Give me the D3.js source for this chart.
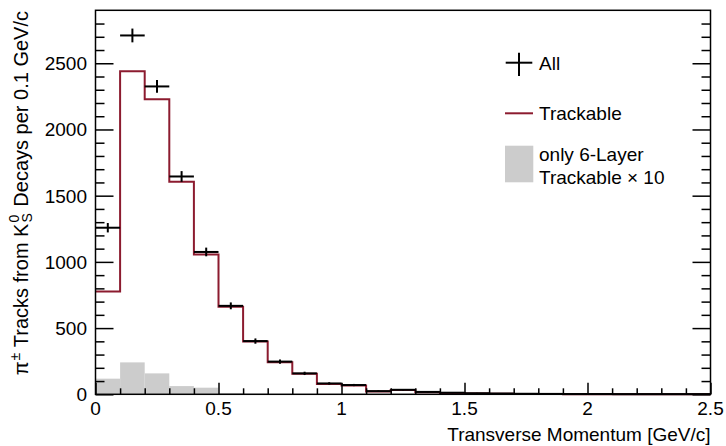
<!DOCTYPE html>
<html>
<head>
<meta charset="utf-8">
<script src="https://cdn.jsdelivr.net/npm/d3@7"></script>
<style>
  html, body { margin: 0; padding: 0; background: #fff; }
  svg { display: block; font-family: "Liberation Sans", Arial, Helvetica, sans-serif; }
</style>
</head>
<body>
<svg id="chart" width="726" height="446"></svg>
<script>
// Bin lower edges in GeV/c (bin width 0.1)
const binEdges = [0.0, 0.1, 0.2, 0.3, 0.4, 0.5, 0.6, 0.7, 0.8, 0.9,
                  1.0, 1.1, 1.2, 1.3, 1.4, 1.5, 1.6, 1.7, 1.8, 1.9,
                  2.0, 2.1, 2.2, 2.3, 2.4];
const binWidth = 0.1;

// All pions from K0S decays
const allCounts = [1258, 2710, 2325, 1645, 1075, 668, 402, 247, 158, 82,
                   70, 24, 34, 18, 12, 8, 6, 4, 3, 2,
                   2, 1, 1, 1, 1];
// Trackable pions
const trackableCounts = [776, 2440, 2228, 1606, 1056, 662, 399, 242, 155, 78,
                         66, 22, 32, 16, 10, 6, 4, 3, 2, 1,
                         1, 1, 0, 1, 0];
// Pions trackable only with 6 layers, scaled by 10
const sixLayerX10 = [118, 241, 158, 62, 50, 10, 5, 2, 0, 0,
                     0, 0, 0, 0, 0, 0, 0, 0, 0, 0,
                     0, 0, 0, 0, 0];

const yMajorTicks = [0, 500, 1000, 1500, 2000, 2500];
const xMajorTicks = [0, 0.5, 1, 1.5, 2, 2.5];
const xTickLabels = ["0", "0.5", "1", "1.5", "2", "2.5"];

const svg = d3.select("#chart");
const frameL = 95.5, frameR = 710.5, frameT = 10.3, frameB = 394.3;
const red = "#8c1b2f";
const fontSize = 19;

const x = d3.scaleLinear().domain([0, 2.5]).range([frameL, frameR]);
const y = d3.scaleLinear().domain([0, 2900]).range([frameB, frameT]);

// step outline path for a histogram
function stepPath(vals) {
  const p = d3.path();
  vals.forEach((v, i) => {
    const x0 = x(binEdges[i]), x1 = x(binEdges[i] + binWidth);
    if (i === 0) p.moveTo(x0, y(v)); else p.lineTo(x0, y(v));
    p.lineTo(x1, y(v));
  });
  return p.toString();
}

// 6-layer filled histogram
svg.append("g").selectAll("rect").data(sixLayerX10).join("rect")
  .attr("x", (d, i) => x(binEdges[i]))
  .attr("width", (d, i) => x(binEdges[i] + binWidth) - x(binEdges[i]))
  .attr("y", d => y(d))
  .attr("height", d => frameB - y(d))
  .attr("fill", "#cccccc");

// trackable outline
svg.append("path").attr("d", stepPath(trackableCounts))
  .attr("fill", "none").attr("stroke", red).attr("stroke-width", 2);

// all: points with errors
const pts = svg.append("g").attr("stroke", "#000").attr("stroke-width", 2);
allCounts.forEach((v, i) => {
  const xc = x(binEdges[i] + binWidth / 2);
  const e = Math.sqrt(v);
  pts.append("line")
    .attr("x1", x(binEdges[i])).attr("x2", x(binEdges[i] + binWidth))
    .attr("y1", y(v)).attr("y2", y(v));
  pts.append("line")
    .attr("x1", xc).attr("x2", xc)
    .attr("y1", y(v + e)).attr("y2", y(v - e));
});

// frame
svg.append("rect").attr("x", frameL).attr("y", frameT)
  .attr("width", frameR - frameL).attr("height", frameB - frameT)
  .attr("fill", "none").attr("stroke", "#000").attr("stroke-width", 1.5);

// axes
const yMinor = d3.range(0, 2900, 100).filter(v => v % 500 !== 0);
const yAxisL = d3.axisRight(y).tickValues(yMajorTicks).tickSize(18).tickFormat("");
const yAxisLm = d3.axisRight(y).tickValues(yMinor).tickSize(9).tickFormat("");
const yAxisR = d3.axisLeft(y).tickValues(yMajorTicks).tickSize(18).tickFormat("");
const yAxisRm = d3.axisLeft(y).tickValues(yMinor).tickSize(9).tickFormat("");
const xMinor = d3.range(1, 25).map(k => k / 10).filter(v => Math.abs(v * 2 - Math.round(v * 2)) > 1e-6);
const xAxis = d3.axisTop(x).tickValues(xMajorTicks).tickSize(11.5).tickFormat("");
const xAxisM = d3.axisTop(x).tickValues(xMinor).tickSize(6).tickFormat("");

function styleAxis(g) {
  g.select(".domain").remove();
  g.selectAll(".tick line").attr("stroke", "#000").attr("stroke-width", 1.5);
}
svg.append("g").attr("transform", `translate(${frameL},0)`).call(yAxisL).call(styleAxis);
svg.append("g").attr("transform", `translate(${frameL},0)`).call(yAxisLm).call(styleAxis);
svg.append("g").attr("transform", `translate(${frameR},0)`).call(yAxisR).call(styleAxis);
svg.append("g").attr("transform", `translate(${frameR},0)`).call(yAxisRm).call(styleAxis);
svg.append("g").attr("transform", `translate(0,${frameB})`).call(xAxis).call(styleAxis);
svg.append("g").attr("transform", `translate(0,${frameB})`).call(xAxisM).call(styleAxis);

// tick labels
svg.append("g").selectAll("text").data(yMajorTicks).join("text")
  .attr("x", 87).attr("y", d => y(d) + 7)
  .attr("text-anchor", "end").attr("font-size", fontSize).text(d => d);
svg.append("g").selectAll("text").data(xMajorTicks).join("text")
  .attr("x", d => x(d)).attr("y", 415)
  .attr("text-anchor", "middle").attr("font-size", fontSize)
  .text((d, i) => xTickLabels[i]);

// axis titles
svg.append("text").attr("x", frameR).attr("y", 441)
  .attr("text-anchor", "end").attr("font-size", fontSize)
  .text("Transverse Momentum [GeV/c]");

const yt = svg.append("text")
  .attr("transform", "translate(27.5,11) rotate(-90)")
  .attr("text-anchor", "end").attr("font-size", 20);
yt.append("tspan").text("π");
yt.append("tspan").attr("font-size", 14).attr("dx", 1).attr("dy", -8).text("±");
yt.append("tspan").attr("dy", 8).text(" Tracks from K");
yt.append("tspan").attr("font-size", 14).attr("dx", 1).attr("dy", -9).text("0");
yt.append("tspan").attr("font-size", 14).attr("dx", -7.8).attr("dy", 13).text("S");
yt.append("tspan").attr("dx", 1).attr("dy", -4).text(" Decays per 0.1 GeV/c");

// legend
const lg = svg.append("g");
lg.append("line").attr("x1", 505.7).attr("x2", 532.3).attr("y1", 62.7).attr("y2", 62.7)
  .attr("stroke", "#000").attr("stroke-width", 2);
lg.append("line").attr("x1", 519).attr("x2", 519).attr("y1", 52.7).attr("y2", 76)
  .attr("stroke", "#000").attr("stroke-width", 2);
lg.append("text").attr("x", 539).attr("y", 69.5).attr("font-size", fontSize).text("All");
lg.append("line").attr("x1", 505).attr("x2", 533).attr("y1", 113.3).attr("y2", 113.3)
  .attr("stroke", red).attr("stroke-width", 2);
lg.append("text").attr("x", 539).attr("y", 120).attr("font-size", fontSize).text("Trackable");
lg.append("rect").attr("x", 505).attr("y", 145.7).attr("width", 28.3).attr("height", 36.6)
  .attr("fill", "#cccccc");
lg.append("text").attr("x", 539).attr("y", 161).attr("font-size", fontSize).text("only 6-Layer");
lg.append("text").attr("x", 539).attr("y", 184).attr("font-size", fontSize).text("Trackable × 10");
</script>
</body>
</html>
